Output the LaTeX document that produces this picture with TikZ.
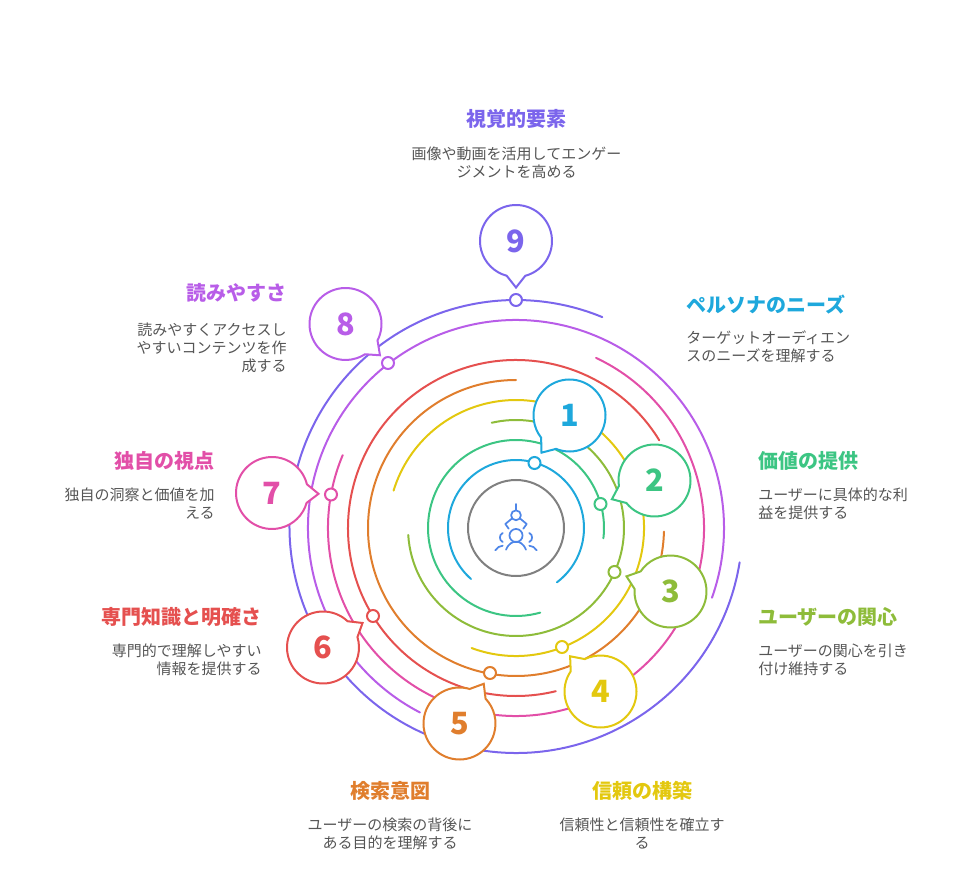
\documentclass[tikz,border=0pt]{standalone}
\usepackage{fontspec}
\usetikzlibrary{calc}
\newfontfamily\jp{Noto Sans CJK JP}
\definecolor{cblue}{HTML}{1EA8DC}
\definecolor{cgreen}{HTML}{3CC583}
\definecolor{colive}{HTML}{8EBC3A}
\definecolor{cyellow}{HTML}{E3C80F}
\definecolor{corange}{HTML}{E07E2D}
\definecolor{cred}{HTML}{E5504F}
\definecolor{cpink}{HTML}{E24FA8}
\definecolor{cpurple}{HTML}{B85DE8}
\definecolor{cviolet}{HTML}{7B65EC}
\definecolor{cgray}{HTML}{808080}
\definecolor{cicon}{HTML}{4E86E8}
\definecolor{ctext}{HTML}{555555}
\tikzset{
  x=0.75pt,y=-0.75pt,
  ring/.style={line width=1.5pt,line cap=round},
  dotc/.style={circle,draw=#1,fill=white,line width=1.5pt,minimum size=9pt,inner sep=0pt},
  numlabel/.style={text=#1,font=\jp\bfseries\fontsize{23}{26}\selectfont,inner sep=0pt},
  ttl/.style={text=#1,font=\jp\bfseries\fontsize{15}{18}\selectfont,inner sep=0pt},
  bodyt/.style={text=ctext,font=\jp\fontsize{11.25}{13.5}\selectfont,inner sep=0pt},
  iconl/.style={draw=cicon,line width=1.3pt,line cap=round,line join=round},
}
% \ringarc{colour}{radius px}{start}{end}
\newcommand{\ringarc}[4]{\draw[ring,#1] (ctr) ++(#3:{#2*0.75pt}) arc[start angle=#3,end angle=#4,radius={#2*0.75pt}];}
% \bubble{name}{x}{y}{dir}{colour}{number}
\newcommand{\bubble}[6]{%
  \coordinate (#1c) at (#2,#3);
  \draw[#5,fill=white,line width=1.5pt,line join=miter]
    ($(#1c)+(#4+15:27pt)$) arc[start angle=#4+15,end angle=#4+345,radius=27pt]
    -- ($(#1c)+(#4:34.9pt)$) -- cycle;
  \node[numlabel=#5] (#1) at (#1c) {#6};
}
\begin{document}
\begin{tikzpicture}
\useasboundingbox (0,0) rectangle (972,884);
\coordinate (ctr) at (516,528);
\coordinate (ctrv) at (516,526.5);
% rings
\draw[ring,cviolet] (ctrv) ++(-9.1:{226.5*0.75pt}) arc[start angle=-9.1,end angle=-292.4,radius={226.5*0.75pt}];
\ringarc{cpurple}{208}{242.5}{-19.6}
\ringarc{cpink}{188}{64.8}{-202.8}
\ringarc{cred}{168}{31.5}{283.7}
\ringarc{corange}{148}{-1.4}{-270}
\ringarc{cyellow}{128}{249.7}{523}
\ringarc{colive}{108}{183.7}{463}
\ringarc{cgreen}{88}{-6.7}{286}
\ringarc{cblue}{68}{228.6}{-53}
\node[circle,draw=cgray,fill=white,line width=1.5pt,minimum size=72pt,inner sep=0pt] (hub) at (ctr) {};
% icon
\draw[iconl] (516,504) -- (516,510);
\draw[iconl] (516,515.3) circle[radius=3.7pt];
\draw[iconl] (512,518.5) -- (505.3,524) -- (508.7,528.7);
\draw[iconl] (520,518.5) -- (526.7,524) -- (523.3,528.7);
\draw[iconl] (516,535.5) circle[radius=4.9pt];
\draw[iconl] (506,549.7) .. controls (509,543) and (512.5,541.8) .. (516,541.8) .. controls (519.5,541.8) and (523,543) .. (526,549.7);
\draw[iconl] (502.7,533) .. controls (499,534.5) and (499,540.5) .. (502.7,542);
\draw[iconl] (529.3,533) .. controls (533,534.5) and (533,540.5) .. (529.3,542);
\draw[iconl] (495.3,550.3) .. controls (497,547.5) and (499.5,546) .. (502.7,545.7);
\draw[iconl] (536.7,550.3) .. controls (535,547.5) and (532.5,546) .. (529.3,545.7);
% dots
\node[dotc=cblue] (d1) at (534.5,463) {};
\node[dotc=cgreen] (d2) at (600.5,504) {};
\node[dotc=colive] (d3) at (614.5,572) {};
\node[dotc=cyellow] (d4) at (562,647) {};
\node[dotc=corange] (d5) at (490,673) {};
\node[dotc=cred] (d6) at (373,616) {};
\node[dotc=cpink] (d7) at (331,494.5) {};
\node[dotc=cpurple] (d8) at (388,363) {};
\node[dotc=cviolet] (d9) at (516,300) {};
% bubbles
\bubble{n9}{516}{241}{-90}{cviolet}{9}
\bubble{n8}{345.5}{324}{-42.2}{cpurple}{8}
\bubble{n7}{272}{493}{-1}{cpink}{7}
\bubble{n6}{323}{647.5}{31.8}{cred}{6}
\bubble{n4}{600.5}{691.5}{130.8}{cyellow}{4}
\bubble{n5}{459.5}{723.5}{58.6}{corange}{5}
\bubble{n3}{670.5}{591.5}{161}{colive}{3}
\bubble{n2}{654.5}{480.5}{203.7}{cgreen}{2}
\bubble{n1}{569.5}{415.5}{233}{cblue}{1}
% labels
\node[ttl=cviolet] (t9) at (516,119) {視覚的要素};
\node[bodyt,align=center] (b9) at (516.5,162.5) {画像や動画を活用してエンゲー\\ジメントを高める};
\node[ttl=cblue,anchor=west] (t1) at (686,305) {ペルソナのニーズ};
\node[bodyt,align=left,anchor=west] (b1) at (686,347) {ターゲットオーディエン\\スのニーズを理解する};
\node[ttl=cgreen,anchor=west] (t2) at (758,461) {価値の提供};
\node[bodyt,align=left,anchor=west] (b2) at (758,504) {ユーザーに具体的な利\\益を提供する};
\node[ttl=colive,anchor=west] (t3) at (758,617) {ユーザーの関心};
\node[bodyt,align=left,anchor=west] (b3) at (758,660) {ユーザーの関心を引き\\付け維持する};
\node[ttl=cyellow] (t4) at (642,791) {信頼の構築};
\node[bodyt,align=center] (b4) at (642,834) {信頼性と信頼性を確立す\\る};
\node[ttl=corange] (t5) at (390,791) {検索意図};
\node[bodyt,align=center] (b5) at (390,834) {ユーザーの検索の背後に\\ある目的を理解する};
\node[ttl=cred,anchor=east] (t6) at (262,617) {専門知識と明確さ};
\node[bodyt,align=right,anchor=east] (b6) at (262,660) {専門的で理解しやすい\\情報を提供する};
\node[ttl=cpink,anchor=east] (t7) at (215,461) {独自の視点};
\node[bodyt,align=right,anchor=east] (b7) at (215,504) {独自の洞察と価値を加\\える};
\node[ttl=cpurple,anchor=east] (t8) at (287,293) {読みやすさ};
\node[bodyt,align=right,anchor=east] (b8) at (287,347.5) {読みやすくアクセスし\\やすいコンテンツを作\\成する};
\end{tikzpicture}
\end{document}
